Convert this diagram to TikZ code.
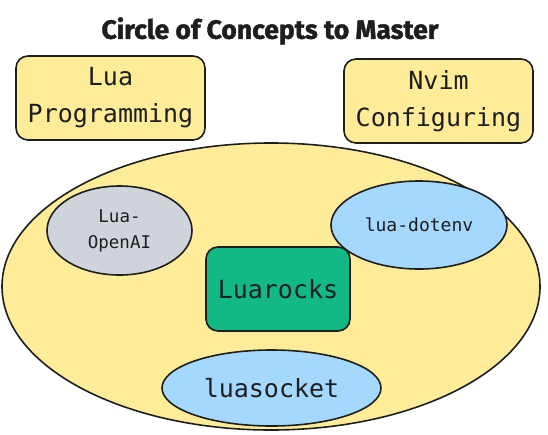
\documentclass[tikz,border=0pt]{standalone}
\usepackage{fontspec}
\setmainfont{Fira Sans}
\setmonofont{DejaVu Sans Mono}
\newfontfamily\headfont{Fira Sans}[BoldFeatures={FakeBold=1.6}]
\usepackage{xcolor}
\usepackage{tikz}
\usetikzlibrary{shapes.geometric, positioning}
\definecolor{ink}{HTML}{1E1E1E}
\definecolor{pale}{HTML}{FFEC99}
\definecolor{sky}{HTML}{A5D8FF}
\definecolor{stone}{HTML}{CED4DA}
\definecolor{mint}{HTML}{12B886}
\tikzstyle{topic}   = [rectangle, rounded corners=12pt, minimum width=189pt, minimum height=84pt, text centered, draw=ink, fill=pale, line width=1.6pt, font=\ttfamily\fontsize{25}{37}\selectfont]
\tikzstyle{realm}   = [ellipse, inner sep=0pt, draw=ink, fill=pale, line width=1.6pt]
\tikzstyle{package} = [ellipse, inner sep=0pt, text centered, draw=ink, line width=1.6pt]
\tikzstyle{core}    = [rectangle, rounded corners=12pt, minimum width=144pt, minimum height=84pt, text centered, draw=ink, fill=mint, line width=1.6pt, font=\ttfamily\fontsize{25}{30}\selectfont]
\tikzset{every node/.style={align=center, text=ink}}

\begin{document}
\begin{tikzpicture}[x=1pt, y=-1pt]
    \useasboundingbox (0,0) rectangle (548,434);
    \node (title) at (270, 31)  {\headfont\fontsize{26.5}{30}\selectfont\bfseries Circle of Concepts to Master};
    \node (lua)  at (110.5, 98) [topic] {Lua\\Programming};
    \node (nvim) at (438.5,101) [topic] {Nvim\\Configuring};

    \node (ring) at (271, 286.5) [realm, minimum width=538pt, minimum height=287pt] {};
    \node (oai)  at (119.5,230.5) [package, fill=stone, minimum width=145pt, minimum height=89pt, font=\ttfamily\fontsize{17.5}{26}\selectfont] {Lua-\\OpenAI};
    \node (env)  at (419, 225)    [package, fill=sky, minimum width=176pt, minimum height=88pt, font=\ttfamily\fontsize{18}{22}\selectfont] {lua-dotenv};
    \node (rocks) at (278, 289)   [core] {Luarocks};
    \node (sock) at (271.5, 388)  [package, fill=sky, minimum width=219pt, minimum height=76pt, font=\ttfamily\fontsize{25}{30}\selectfont] {luasocket};
\end{tikzpicture}
\end{document}
